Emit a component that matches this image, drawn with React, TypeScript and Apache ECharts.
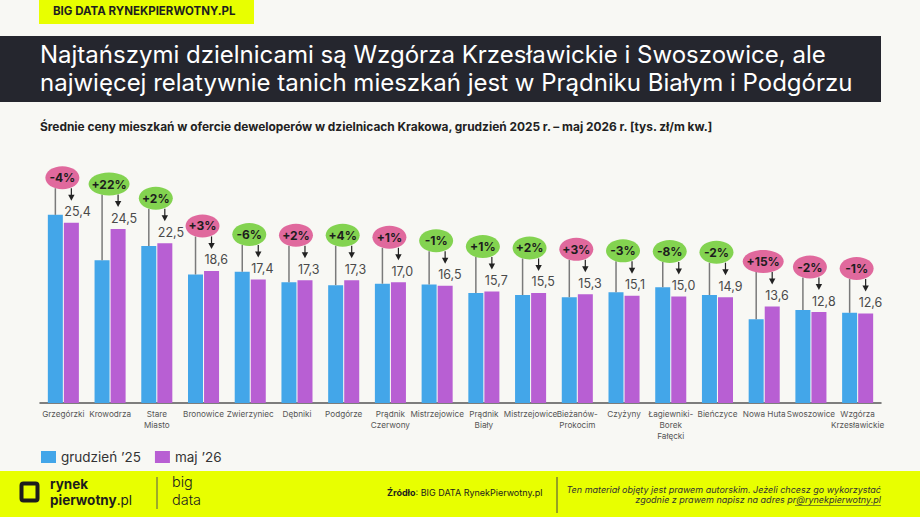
import React, { useEffect, useRef } from 'react';
import * as echarts from 'echarts';

const districts = [
  'Grzegórzki', 'Krowodrza', 'Stare\nMiasto', 'Bronowice', 'Zwierzyniec', 'Dębniki',
  'Podgórze', 'Prądnik\nCzerwony', 'Mistrzejowice', 'Prądnik\nBiały', 'Mistrzejowice',
  'Bieżanów-\nProkocim', 'Czyżyny', 'Łagiewniki-\nBorek\nFałęcki', 'Bieńczyce', 'Nowa Huta',
  'Swoszowice', 'Wzgórza\nKrzesławickie',
];
const dec25 = [26.5, 20.1, 22.1, 18.1, 18.5, 17.0, 16.6, 16.8, 16.7, 15.5, 15.2, 14.9, 15.6, 16.3, 15.2, 11.8, 13.1, 12.7];
const may26 = [25.4, 24.5, 22.5, 18.6, 17.4, 17.3, 17.3, 17.0, 16.5, 15.7, 15.5, 15.3, 15.1, 15.0, 14.9, 13.6, 12.8, 12.6];
const changeLabels = ['-4%', '+22%', '+2%', '+3%', '-6%', '+2%', '+4%', '+1%', '-1%', '+1%', '+2%', '+3%', '-3%', '-8%', '-2%', '+15%', '-2%', '-1%'];
const bubbleTones = ['pink', 'green', 'green', 'pink', 'green', 'pink', 'green', 'pink', 'green', 'green', 'green', 'pink', 'green', 'green', 'green', 'pink', 'pink', 'pink'];
const seriesNames = ['grudzień ’25', 'maj ’26'];

const FONT = 'Inter, "Noto Sans", sans-serif';
const BLUE = '#43a6e9';
const PURPLE = '#b85fd3';
const PINK = '#e0699d';
const GREEN = '#83d350';
const YELLOW = '#e8ff00';

const fmt = (v: number) => v.toFixed(1).replace('.', ',');

export default function App() {
  const ref = useRef<HTMLDivElement>(null);
  useEffect(() => {
    if (!ref.current) return;
    const chart = echarts.init(ref.current, undefined, { renderer: 'svg' });
    const option: any = {
      animation: false,
      backgroundColor: '#f8f8f4',
      textStyle: { fontFamily: FONT },
      grid: { left: 40, right: 39, top: 190, bottom: 114, containLabel: false },
      legend: {
        left: 36,
        top: 445,
        itemWidth: 15,
        itemHeight: 12,
        itemGap: 14,
        icon: 'rect',
        textStyle: { fontSize: 13.5, color: '#333', fontFamily: FONT },
        data: seriesNames,
      },
      xAxis: {
        type: 'category',
        data: districts,
        axisLine: { lineStyle: { color: '#555', width: 1.5 } },
        axisTick: { show: false },
        axisLabel: {
          interval: 0,
          hideOverlap: false,
          fontSize: 8.2,
          lineHeight: 11,
          color: '#555',
          margin: 5,
          fontFamily: FONT,
        },
      },
      yAxis: {
        type: 'value',
        min: 0,
        max: 30,
        show: false,
        splitLine: { show: false },
      },
      series: [
        {
          name: seriesNames[0],
          type: 'bar',
          data: dec25,
          barWidth: 15,
          barGap: '7%',
          itemStyle: { color: BLUE },
        },
        {
          name: seriesNames[1],
          type: 'bar',
          data: may26,
          barWidth: 15,
          barGap: '7%',
          itemStyle: { color: PURPLE },
        },
        {
          type: 'custom',
          name: 'annotations',
          clip: false,
          z: 10,
          data: may26.map((v, i) => [i, v, dec25[i]]),
          renderItem: (params: any, api: any) => {
            const i = params.dataIndex;
            const pTop = api.coord([i, may26[i]]);
            const bTop = api.coord([i, dec25[i]]);
            const cx = pTop[0];
            const xb = cx - 8;
            const xp = cx + 8;
            const yP = pTop[1];
            const cy = yP - 45;
            const label = changeLabels[i];
            const rx = (label.length * 7 + 13) / 2;
            const ry = 11.5;
            return {
              type: 'group',
              children: [
                {
                  type: 'line',
                  shape: { x1: xb, y1: cy + ry - 1, x2: xb, y2: bTop[1] },
                  style: { stroke: '#7a7a7a', lineWidth: 1.5 },
                },
                {
                  type: 'line',
                  shape: { x1: xp, y1: cy + ry - 1, x2: xp, y2: yP - 27 },
                  style: { stroke: '#222', lineWidth: 1.2 },
                },
                {
                  type: 'polygon',
                  shape: { points: [[xp - 3.2, yP - 28], [xp + 3.2, yP - 28], [xp, yP - 22]] },
                  style: { fill: '#222' },
                },
                {
                  type: 'ellipse',
                  shape: { cx: cx - 1, cy, rx, ry },
                  style: { fill: bubbleTones[i] === 'pink' ? PINK : GREEN },
                },
                {
                  type: 'text',
                  style: {
                    text: label,
                    x: cx - 1,
                    y: cy,
                    align: 'center',
                    verticalAlign: 'middle',
                    font: `bold 12px ${FONT}`,
                    fill: '#1d1d1d',
                  },
                },
                {
                  type: 'text',
                  style: {
                    text: fmt(may26[i]),
                    x: xp - 7,
                    y: yP - 11,
                    align: 'left',
                    verticalAlign: 'middle',
                    font: `12.5px ${FONT}`,
                    fill: '#4a4a4a',
                  },
                },
              ],
            };
          },
        },
      ],
      graphic: [
        { type: 'rect', left: 39, top: 0, shape: { width: 215, height: 24 }, style: { fill: YELLOW } },
        {
          type: 'text', left: 53, top: 5,
          style: { text: 'BIG DATA RYNEKPIERWOTNY.PL', font: `bold 11.5px ${FONT}`, fill: '#1f1f1f' },
        },
        { type: 'rect', left: 0, top: 36, shape: { width: 881, height: 66 }, style: { fill: '#25262e' } },
        {
          type: 'text', left: 40, top: 40,
          style: {
            text: 'Najtańszymi dzielnicami są Wzgórza Krzesławickie i Swoszowice, ale\nnajwięcej relatywnie tanich mieszkań jest w Prądniku Białym i Podgórzu',
            font: `24px ${FONT}`, lineHeight: 28.5, fill: '#ffffff',
          },
        },
        {
          type: 'text', left: 40, top: 120,
          style: {
            text: 'Średnie ceny mieszkań w ofercie deweloperów w dzielnicach Krakowa, grudzień 2025 r. – maj 2026 r. [tys. zł/m kw.]',
            font: `bold 11.9px ${FONT}`, fill: '#222',
          },
        },
        { type: 'rect', left: 0, top: 471, shape: { width: 920, height: 46 }, style: { fill: YELLOW } },
        {
          type: 'rect', left: 19, top: 481,
          shape: { width: 16, height: 17, r: 2 },
          style: { fill: 'none', stroke: '#1d1d1d', lineWidth: 4 },
        },
        {
          type: 'text', left: 50, top: 477,
          style: { text: 'rynek', font: `bold 13.5px ${FONT}`, fill: '#1d1d1d' },
        },
        {
          type: 'text', left: 50, top: 493,
          style: {
            text: '{b|pierwotny}{n|.pl}',
            rich: {
              b: { font: `bold 13.5px ${FONT}`, fill: '#1d1d1d' },
              n: { font: `13.5px ${FONT}`, fill: '#1d1d1d' },
            },
          },
        },
        {
          type: 'line', shape: { x1: 157, y1: 477, x2: 157, y2: 509 },
          style: { stroke: '#555', lineWidth: 1 },
        },
        {
          type: 'text', left: 172, top: 474,
          style: { text: 'big', font: `300 14.5px ${FONT}`, fill: '#1d1d1d' },
        },
        {
          type: 'text', left: 172, top: 492,
          style: { text: 'data', font: `300 14.5px ${FONT}`, fill: '#1d1d1d' },
        },
        {
          type: 'text', left: 387, top: 488,
          style: {
            text: '{b|Źródło}{n|: BIG DATA RynekPierwotny.pl}',
            rich: {
              b: { font: `bold 9px ${FONT}`, fill: '#1d1d1d' },
              n: { font: `9px ${FONT}`, fill: '#1d1d1d' },
            },
          },
        },
        {
          type: 'line', shape: { x1: 557, y1: 477, x2: 557, y2: 513 },
          style: { stroke: '#444', lineWidth: 1 },
        },
        {
          type: 'text', right: 39, top: 485,
          style: {
            text: 'Ten materiał objęty jest prawem autorskim. Jeżeli chcesz go wykorzystać',
            font: `italic 9px ${FONT}`, fill: '#333',
          },
        },
        {
          type: 'text', right: 39, top: 495,
          style: {
            text: 'zgodnie z prawem napisz na adres pr@rynekpierwotny.pl',
            font: `italic 9px ${FONT}`, fill: '#333',
          },
        },
        {
          type: 'line', shape: { x1: 795, y1: 505.5, x2: 881, y2: 505.5 },
          style: { stroke: '#333', lineWidth: 0.6 },
        },
      ],
    };
    chart.setOption(option);
    return () => chart.dispose();
  }, []);
  return (
    <div
      ref={ref}
      style={{ position: 'fixed', left: 0, top: 0, width: 920, height: 517 }}
    />
  );
}
